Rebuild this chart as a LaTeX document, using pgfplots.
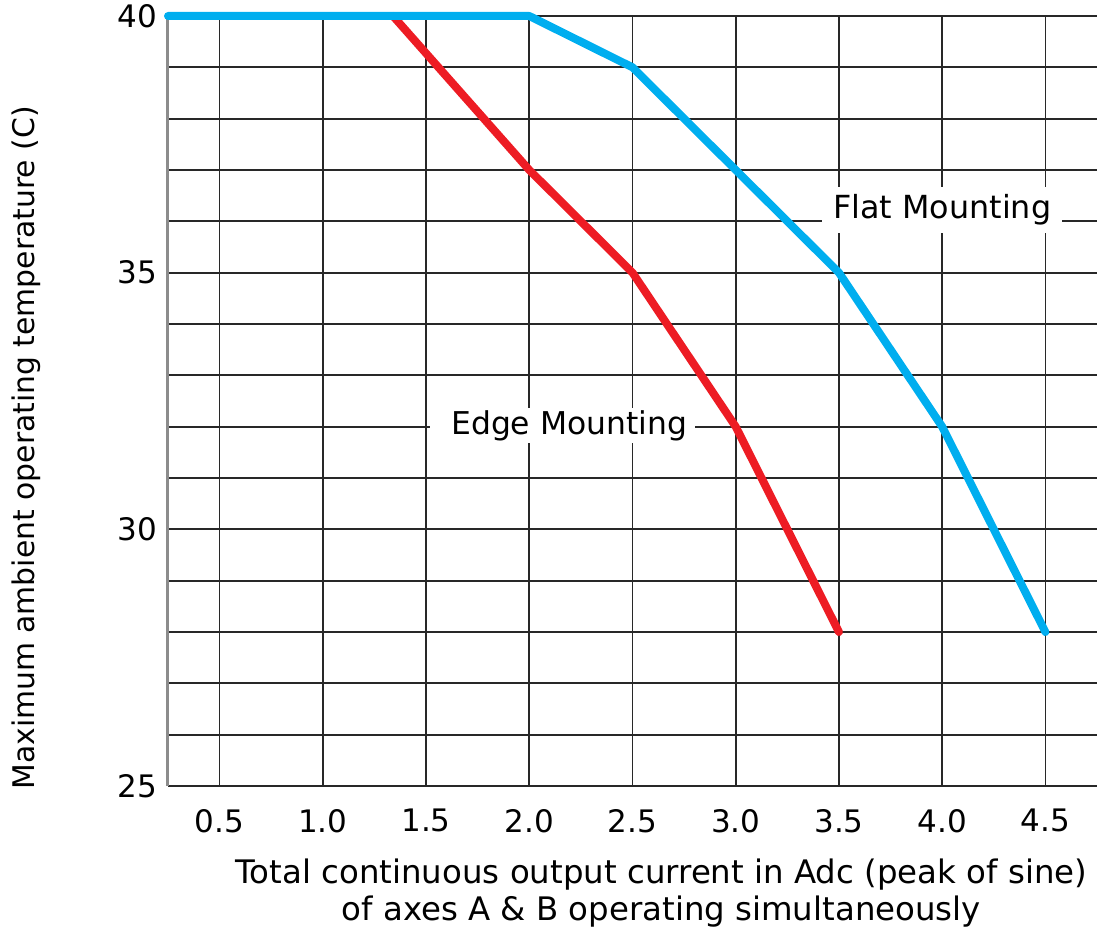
\documentclass[border=0pt]{standalone}
\usepackage{fontspec}
\setmainfont{DejaVu Sans}
\usepackage{pgfplots}
\pgfplotsset{compat=1.18}
\definecolor{flatblue}{RGB}{0,174,239}
\definecolor{edgered}{RGB}{237,28,36}
\definecolor{gridc}{RGB}{40,40,40}
\begin{document}
\begin{tikzpicture}
\begin{axis}[
  scale only axis,
  width=464.5pt, height=385pt,
  xmin=0.25, xmax=4.75, ymin=25, ymax=40,
  axis x line=bottom, axis y line=left,
  x axis line style={-, draw=gridc, line width=1.4pt},
  y axis line style={-, draw=black!45, line width=1.5pt},
  xtick={0.5,1.0,1.5,2.0,2.5,3.0,3.5,4.0,4.5},
  ytick={25,30,35,40},
  minor ytick={26,27,28,29,31,32,33,34,36,37,38,39},
  xmajorgrids, ymajorgrids, yminorgrids,
  major grid style={draw=gridc, line width=0.85pt},
  minor grid style={draw=gridc, line width=0.85pt},
  major tick length=0pt, minor tick length=0pt,
  tick label style={font=\fontsize{15.5pt}{18pt}\selectfont},
  /pgf/number format/assume math mode=true,
  x tick label style={/pgf/number format/.cd, fixed, fixed zerofill, precision=1, assume math mode=true, /tikz/yshift=-8pt},
  y tick label style={/pgf/number format/.cd, fixed, precision=0, assume math mode=true, /tikz/xshift=-2pt},
  clip=false,
  xlabel={Total continuous output current in Adc (peak of sine)\\of axes A \& B operating simultaneously},
  every axis x label/.style={at={(rel axis cs:0.531,0)}, anchor=north, yshift=-33pt, align=center, font=\fontsize{16.2pt}{18.5pt}\selectfont},
  ylabel={Maximum ambient operating temperature (C)},
  every axis y label/.style={at={(rel axis cs:-0.153,0.439)}, anchor=center, rotate=90, font=\fontsize{14.9pt}{18pt}\selectfont},
]
\addplot[draw=edgered, line width=4pt, line cap=round, line join=round] coordinates {
  (1.34,40) (2.0,37) (2.5,35) (3.0,32) (3.5,28)
};
\addplot[draw=flatblue, line width=4pt, line cap=round, line join=round] coordinates {
  (0.25,40) (2.0,40) (2.5,39) (3.0,37) (3.5,35) (4.0,32) (4.5,28)
};
\node[fill=white, inner xsep=5.5pt, inner ysep=4pt, font=\fontsize{15.9pt}{18pt}\selectfont] at (axis cs:4.0,36.22) {Flat Mounting};
\node[fill=white, inner xsep=4pt, inner ysep=1pt, font=\fontsize{15.7pt}{18pt}\selectfont] at (axis cs:2.162,32.02) {\hspace{6.5pt}Edge Mounting};
\end{axis}
\pgfresetboundingbox
\path (current axis.south west) ++(-84pt,-72.5pt) rectangle ++(548.5pt,465.5pt);
\end{tikzpicture}
\end{document}
